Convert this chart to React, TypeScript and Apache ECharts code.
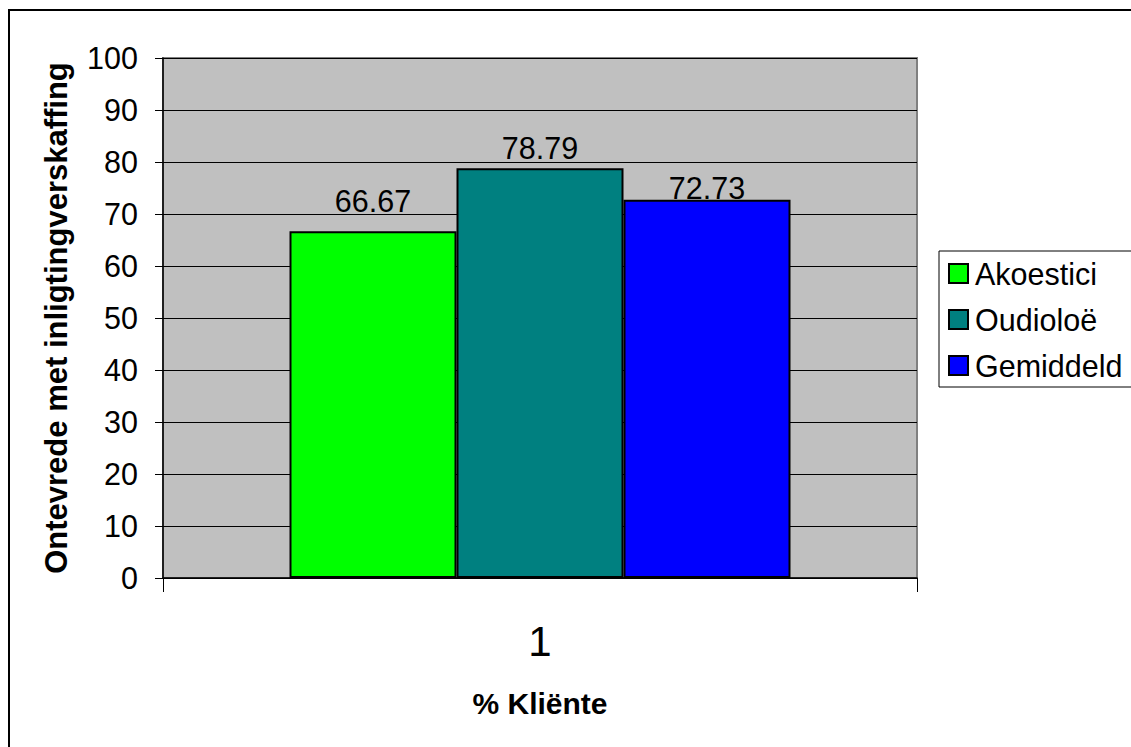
import React, { useEffect, useRef } from "react";
import * as echarts from "echarts";

const categories = ["1"];
const seriesNames = ["Akoestici", "Oudioloë", "Gemiddeld"];
const akoestici = [66.67];
const oudioloe = [78.79];
const gemiddeld = [72.73];
const yTicks = { min: 0, max: 100, interval: 10 };

const FONT = "'Liberation Sans', Arial, sans-serif";

export default function App() {
  const ref = useRef<HTMLDivElement>(null);
  useEffect(() => {
    if (!ref.current) return;
    const chart = echarts.init(ref.current, undefined, { renderer: "svg" });
    const colors = ["#00FF00", "#008080", "#0000FF"];
    const values = [akoestici, oudioloe, gemiddeld];
    const labelDist = [15, 5, -4];
    chart.setOption({
      animation: false,
      backgroundColor: "#FFFFFF",
      textStyle: { fontFamily: FONT },
      graphic: [
        {
          type: "rect",
          shape: { x: 9, y: 10, width: 1140, height: 760 },
          style: { fill: "none", stroke: "#000", lineWidth: 2 },
          silent: true,
          z: -1,
        },
      ],
      grid: {
        left: 163,
        right: 214,
        top: 58,
        bottom: 169,
        show: true,
        backgroundColor: "#C0C0C0",
        borderColor: "#808080",
        borderWidth: 2,
        containLabel: false,
      },
      legend: {
        orient: "vertical",
        left: 939,
        top: 251,
        padding: [7, 9, 6, 9],
        borderColor: "#000",
        borderWidth: 1,
        itemGap: 15,
        itemWidth: 19,
        itemHeight: 19,
        icon: "rect",
        selectedMode: false,
        textStyle: {
          fontFamily: FONT,
          fontSize: 30.5,
          color: "#000",
          lineHeight: 30,
          padding: [0, 0, 0, 2],
        },
        data: seriesNames,
      },
      xAxis: {
        type: "category",
        data: categories,
        name: "% Kliënte",
        nameLocation: "middle",
        nameGap: 110,
        nameTextStyle: { fontFamily: FONT, fontSize: 30, fontWeight: "bold", color: "#000" },
        axisLine: { show: true, lineStyle: { color: "#000", width: 1.5 } },
        axisTick: { show: true, length: 14, lineStyle: { color: "#000" } },
        axisLabel: { fontFamily: FONT, fontSize: 42, color: "#000", margin: 42 },
        splitLine: { show: false },
      },
      yAxis: {
        type: "value",
        min: yTicks.min,
        max: yTicks.max,
        interval: yTicks.interval,
        name: "Ontevrede met inligtingverskaffing",
        nameLocation: "middle",
        nameGap: 91,
        nameTextStyle: { fontFamily: FONT, fontSize: 31, fontWeight: "bold", color: "#000" },
        axisLine: { show: true, lineStyle: { color: "#000", width: 1.5 } },
        axisTick: { show: true, length: 8, lineStyle: { color: "#000" } },
        axisLabel: { fontFamily: FONT, fontSize: 30.5, color: "#000", margin: 25 },
        splitLine: { show: true, lineStyle: { color: "#000", width: 1 } },
      },
      series: seriesNames.map((name, i) => ({
        name,
        type: "bar",
        data: values[i],
        barWidth: 167,
        barGap: "0%",
        itemStyle: { color: colors[i], borderColor: "#000", borderWidth: 2 },
        label: {
          show: true,
          position: "top",
          distance: labelDist[i],
          fontFamily: FONT,
          fontSize: 30.5,
          color: "#000",
          formatter: (p: any) => Number(p.value).toFixed(2),
        },
      })),
    });
    return () => chart.dispose();
  }, []);
  return (
    <div
      ref={ref}
      style={{ position: "fixed", left: 0, top: 0, width: 1131, height: 747 }}
    />
  );
}
